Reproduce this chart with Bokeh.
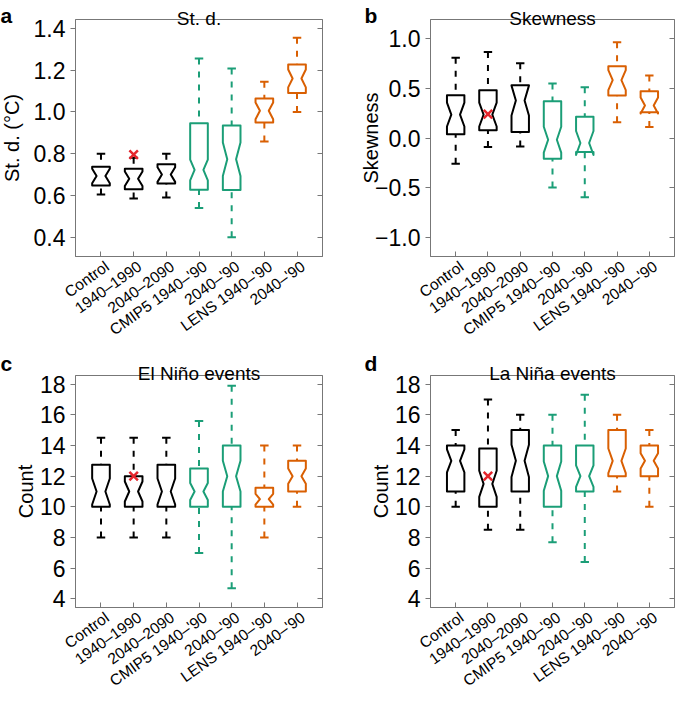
import numpy as np
from bokeh.plotting import figure
from bokeh.layouts import gridplot
from bokeh.models import (FixedTicker, CustomJSTickFormatter, LinearAxis, Range1d,
                          ColumnDataSource)
from bokeh.core.properties import value
from bokeh.embed import file_html
from bokeh.resources import INLINE

# ---------------- data ----------------
categories = ["Control", "1940\u20131990", "2040\u20132090", "CMIP5 1940\u2013'90",
              "2040\u2013'90", "LENS 1940\u2013'90", "2040\u2013'90"]
positions = [1, 2, 3, 4, 5, 6, 7]
obs_position = 2

# a: St. d.
std_lo = [0.605, 0.585, 0.59, 0.54, 0.40, 0.858, 1.00]
std_q1 = [0.648, 0.63, 0.657, 0.627, 0.626, 0.949, 1.09]
std_med = [0.693, 0.68, 0.70, 0.722, 0.773, 1.005, 1.16]
std_q3 = [0.738, 0.728, 0.749, 0.945, 0.935, 1.064, 1.227]
std_hi = [0.80, 0.78, 0.80, 1.255, 1.208, 1.144, 1.355]
std_notch = [0.035, 0.035, 0.035, 0.05, 0.08, 0.04, 0.043]
std_obs = 0.795
std_ticks = [0.4, 0.6, 0.8, 1.0, 1.2, 1.4]

# b: Skewness
skw_lo = [-0.258, -0.09, -0.084, -0.496, -0.593, 0.157, 0.11]
skw_q1 = [0.037, 0.077, 0.06, -0.208, -0.141, 0.425, 0.258]
skw_med = [0.235, 0.235, 0.375, -0.017, -0.05, 0.58, 0.325]
skw_q3 = [0.429, 0.479, 0.529, 0.369, 0.214, 0.72, 0.469]
skw_hi = [0.804, 0.861, 0.75, 0.546, 0.509, 0.961, 0.626]
skw_notch = [0.12, 0.12, 0.15, 0.13, 0.12, 0.10, 0.08]
skw_obs = 0.24
skw_ticks = [-1.0, -0.5, 0.0, 0.5, 1.0]

# c: El Nino events
eln_lo = [8, 8, 8, 7, 4.7, 8, 10]
eln_q1 = [10, 10, 10, 10, 10, 10, 11]
eln_med = [11, 11, 11, 11, 12, 10.5, 12]
eln_q3 = [12.75, 12, 12.75, 12.5, 14, 11.25, 13]
eln_hi = [14.5, 14.5, 14.5, 15.6, 17.9, 14, 14]
eln_notch = [0.85, 0.65, 0.85, 0.55, 1.0, 0.35, 0.5]
eln_obs = 12
count_ticks = [4, 6, 8, 10, 12, 14, 16, 18]

# d: La Nina events
lan_lo = [10, 8.5, 8.5, 7.7, 6.4, 11, 10]
lan_q1 = [11, 10, 11, 10, 11, 12, 12]
lan_med = [13, 11.5, 13, 12, 12, 13, 13]
lan_q3 = [14, 13.8, 15, 14, 14, 15, 14]
lan_hi = [15, 17, 16, 16, 17.3, 16, 15]
lan_notch = [0.75, 0.85, 1.05, 0.95, 0.7, 0.8, 0.5]
lan_obs = 12

# ---------------- style ----------------
BLACK = "#000000"
GREEN = "#1B9E77"
ORANGE = "#D95F02"
RED = "#E5262D"
AXIS_GREY = "#777777"
box_colors = [BLACK] * 3 + [GREEN] * 2 + [ORANGE] * 2
FONT = "Liberation Sans"
HW = 0.27      # half box width (x units)
SW = 0.13      # half staple width
NOTCH_SCALE = 0.5
X0, X1 = 0.22, 7.78


def make_panel(letter, title, ylabel, lo, q1, med, q3, hi, notch, obs,
               yr, yticks, decimals, fig_w, fig_h, left, right, top, bottom,
               ylabel_x, letter_x, letter_base, title_base):
    p = figure(width=fig_w, height=fig_h, x_range=Range1d(X0, X1),
               y_range=Range1d(*yr), output_backend="svg", toolbar_location=None,
               title=None, min_border_left=left, min_border_right=right,
               min_border_top=top, min_border_bottom=bottom,
               background_fill_color="white", border_fill_color="white",
               outline_line_color=AXIS_GREY, outline_line_width=1)
    p.xgrid.visible = False
    p.ygrid.visible = False

    xa = p.xaxis[0]
    xa.ticker = FixedTicker(ticks=positions)
    xa.formatter = CustomJSTickFormatter(code="return '';")
    xa.major_label_text_font_size = "0px"
    xa.major_label_standoff = 0
    xa.major_tick_in = 5
    xa.major_tick_out = 0
    xa.minor_tick_in = 0
    xa.minor_tick_out = 0
    xa.axis_line_color = AXIS_GREY
    xa.major_tick_line_color = AXIS_GREY

    ya = p.yaxis[0]
    ya.ticker = FixedTicker(ticks=yticks)
    ya.formatter = CustomJSTickFormatter(
        code="return tick.toFixed(%d).replace('-', '\\u2212');" % decimals)
    ya.major_label_text_font = FONT
    ya.major_label_text_font_size = "23px"
    ya.major_label_text_color = "black"
    ya.major_label_standoff = 5
    ya.major_tick_out = 5
    ya.major_tick_in = 0
    ya.minor_tick_in = 0
    ya.minor_tick_out = 0
    ya.axis_line_color = AXIS_GREY
    ya.major_tick_line_color = AXIS_GREY

    ra = LinearAxis(ticker=FixedTicker(ticks=yticks),
                    formatter=CustomJSTickFormatter(code="return '';"),
                    major_label_text_font_size="0px", major_label_standoff=0,
                    major_tick_in=5, major_tick_out=0, minor_tick_in=0, minor_tick_out=0,
                    axis_line_color=AXIS_GREY, major_tick_line_color=AXIS_GREY)
    p.add_layout(ra, "right")

    # boxes with notches
    xs, ys = [], []
    for x, a, m, c, n in zip(positions, q1, med, q3, notch):
        xx = [x + HW * k for k in (-1, 1, 1, NOTCH_SCALE, 1, 1, -1, -1, -NOTCH_SCALE, -1)]
        yy = [a, a, m - n, m, m + n, c, c, m + n, m, m - n]
        xs.append(xx)
        ys.append(yy)
    p.patches(xs=xs, ys=ys, fill_alpha=0, line_color=box_colors, line_width=2,
              line_join="round")

    # whiskers (drawn from whisker end toward hinge)
    p.segment(x0=positions, y0=hi, x1=positions, y1=q3, line_color=box_colors,
              line_width=2, line_dash="6 7")
    p.segment(x0=positions, y0=lo, x1=positions, y1=q1, line_color=box_colors,
              line_width=2, line_dash="6 7")
    # staples
    xl = [x - SW for x in positions]
    xr = [x + SW for x in positions]
    p.segment(x0=xl, y0=hi, x1=xr, y1=hi, line_color=box_colors, line_width=2)
    p.segment(x0=xl, y0=lo, x1=xr, y1=lo, line_color=box_colors, line_width=2)

    # observation
    p.scatter(x=[obs_position], y=[obs], marker="x", size=12, line_color=RED,
              line_width=2.5)

    # x tick labels (overlay level -> drawn outside the frame)
    ysrc = ColumnDataSource(dict(x=positions, y=[yr[0]] * len(positions),
                                 text=categories))
    p.text(x="x", y="y", text="text", source=ysrc, angle=0.62, text_align="right",
           text_baseline="middle", x_offset=6, y_offset=8, text_font=value(FONT),
           text_font_size=value("15.5px"), text_color="black", level="overlay")

    # title, panel letter, y label
    ymid = (yr[0] + yr[1]) / 2
    xmid = (X0 + X1) / 2
    tsrc = ColumnDataSource(dict(
        x=[xmid, X0, X0], y=[yr[1], yr[1], ymid],
        xo=[0, letter_x, ylabel_x], yo=[-(top - title_base), -(top - letter_base), 0],
        text=[title, letter, ylabel],
        angle=[0.0, 0.0, np.pi / 2],
        align=["center", "left", "center"],
        size=["19px", "21px", "20px"],
        style=["normal", "bold", "normal"]))
    p.text(x="x", y="y", text="text", source=tsrc, x_offset="xo", y_offset="yo",
           angle="angle", text_align="align", text_baseline="alphabetic",
           text_font=value(FONT), text_font_size="size", text_font_style="style",
           text_color="black", level="overlay")
    return p


pa = make_panel("a", "St. d.", "St. d. (\u00b0C)", std_lo, std_q1, std_med, std_q3,
                std_hi, std_notch, std_obs, (0.308, 1.442), std_ticks, 1,
                332, 344, 75, 10, 19, 88, -63.5, -75, 15, 18)
pb = make_panel("b", "Skewness", "Skewness", skw_lo, skw_q1, skw_med, skw_q3,
                skw_hi, skw_notch, skw_obs, (-1.188, 1.188), skw_ticks, 1,
                344, 344, 98, 2, 19, 88, -60, -66, 15, 18)
pc = make_panel("c", "El Ni\u00f1o events", "Count", eln_lo, eln_q1, eln_med, eln_q3,
                eln_hi, eln_notch, eln_obs, (3.44, 18.56), count_ticks, 0,
                332, 348, 75, 10, 31, 85, -50, -75, 19, 29)
pd_ = make_panel("d", "La Ni\u00f1a events", "Count", lan_lo, lan_q1, lan_med, lan_q3,
                 lan_hi, lan_notch, lan_obs, (3.44, 18.56), count_ticks, 0,
                 344, 348, 98, 2, 31, 85, -50, -66, 19, 29)

grid = gridplot([[pa, pb], [pc, pd_]], toolbar_location=None)

open("out.html", "w").write(file_html(grid, INLINE))
